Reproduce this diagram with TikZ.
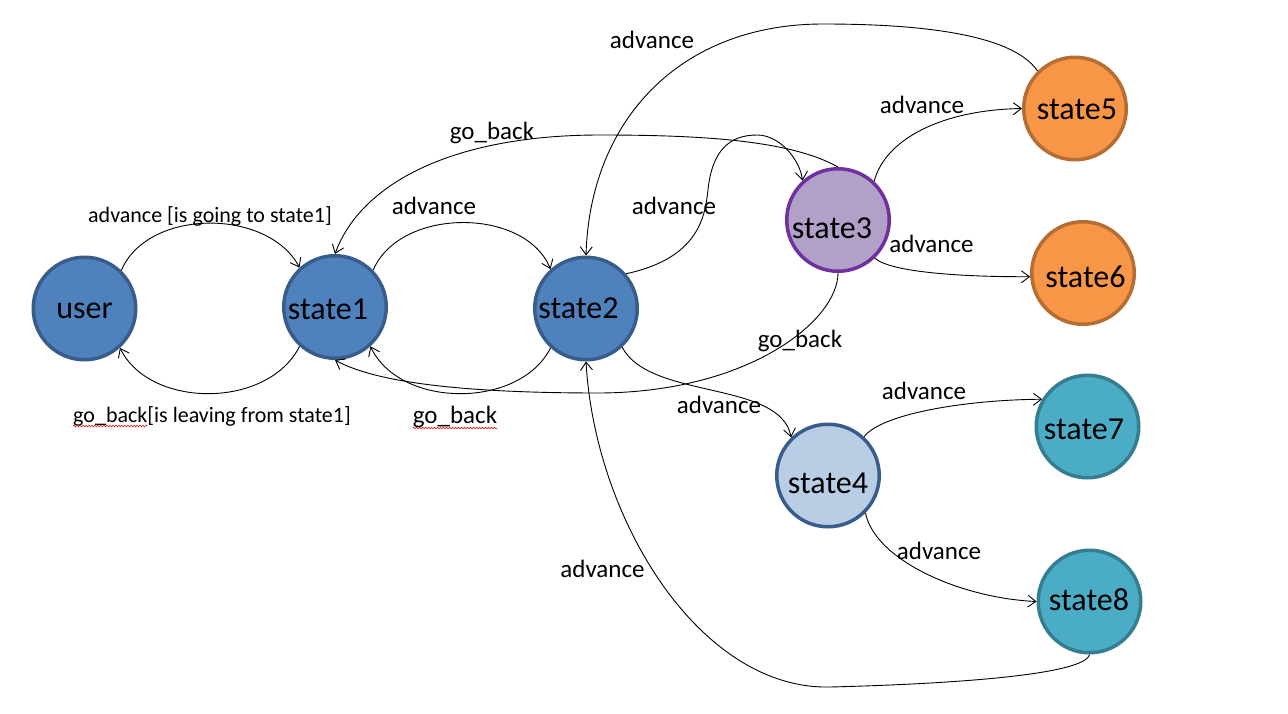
\documentclass[tikz,border=0pt]{standalone}
\usepackage{fontspec}
\setmainfont{Carlito}
\usetikzlibrary{arrows.meta,calc,decorations.pathmorphing}
\definecolor{blueF}{HTML}{4F81BD}
\definecolor{blueD}{HTML}{385D8A}
\definecolor{lilaF}{HTML}{B1A0C7}
\definecolor{lilaD}{HTML}{7030A0}
\definecolor{paleF}{HTML}{B9CDE5}
\definecolor{orgF}{HTML}{F79646}
\definecolor{orgD}{HTML}{B66D31}
\definecolor{tealF}{HTML}{4BACC6}
\definecolor{tealD}{HTML}{357D91}
\definecolor{squig}{HTML}{E02020}
\begin{document}
\begin{tikzpicture}[x=1pt,y=-1pt,
  st/.style={circle, line width=3.5pt, minimum size=102.5pt, inner sep=0pt},
  statelab/.style={font=\fontsize{32}{38}\selectfont, text height=0pt, text depth=0pt, inner sep=0pt},
  slab/.style n args={3}{label={[statelab,xshift=#1,yshift=#2]center:#3}},
  bluest/.style={st, fill=blueF, draw=blueD},
  lilast/.style={st, fill=lilaF, draw=lilaD},
  palest/.style={st, fill=paleF, draw=blueD},
  orgst/.style={st, fill=orgF, draw=orgD},
  tealst/.style={st, fill=tealF, draw=tealD},
  edge/.style={draw, line width=0.9pt, -{Straight Barb[length=8pt,width=12pt]}},
  elab/.style={font=\fontsize{25}{30}\selectfont, anchor=base, inner sep=0pt},
  elabs/.style={font=\fontsize{22}{26}\selectfont, anchor=base, inner sep=0pt},
  wavy/.style={draw=squig, line width=0.6pt, decorate, decoration={snake, amplitude=0.9pt, segment length=3pt}}
]
\fill[white] (0,0) rectangle (1288,713);
\useasboundingbox (0,0) rectangle (1288,713);

% states
\node[bluest, slab={0pt}{-10pt}{user}]   (user)   at (84.5,308.5) {};
\node[bluest, slab={-7pt}{-12pt}{state1}] (state1) at (335,307) {};
\node[bluest, slab={-7.5pt}{-9.5pt}{state2}] (state2) at (586,308.5) {};
\node[lilast, slab={-6pt}{-18pt}{state3}] (state3) at (838,220) {};
\node[palest, slab={0pt}{-17.5pt}{state4}] (state4) at (828,475.5) {};
\node[orgst, slab={2pt}{-10.5pt}{state5}] (state5) at (1075,108.5) {};
\node[orgst, slab={2.5pt}{-14pt}{state6}] (state6) at (1083,273) {};
\node[tealst, slab={-3.5pt}{-12.5pt}{state7}] (state7) at (1087.5,426.5) {};
\node[tealst, slab={-0.5pt}{-8.5pt}{state8}] (state8) at (1089.5,601.5) {};

% connectors
\draw[edge] (user.46) .. controls (148,208) and (268,208) .. (state1.132);
\draw[edge] (state1.228) .. controls (268,409) and (150,409) .. (user.312);
\draw[edge] (state1.44) .. controls (400,207) and (525,207) .. (state2.132);
\draw[edge] (state2.228) .. controls (520,409) and (400,409) .. (state1.312);
\draw[edge] (state2.41) .. controls (700,258) and (705,215) .. (708,190)
   .. controls (712,150) and (730,135) .. (757,135)
   .. controls (780,135) and (800,160) .. (state3.132);
\draw[edge] (state3.north) .. controls (790,140) and (700,135) .. (600,135)
   .. controls (450,135) and (360,185) .. (state1.north);
\draw[edge] (state3.south) .. controls (838,320) and (750,392) .. (600,393)
   .. controls (480,393) and (380,385) .. (state1.south);
\draw[edge] (state5.135) .. controls (1010,30) and (900,24) .. (823,24)
   .. controls (680,24) and (590,120) .. (state2.north);
\draw[edge] (state3.47) .. controls (885,140) and (940,110) .. (state5.180);
\draw[edge] (state3.314) .. controls (890,272) and (960,277) .. (state6.184);
\draw[edge] (state2.313) .. controls (650,400) and (780,380) .. (state4.134);
\draw[edge] (state4.47) .. controls (880,415) and (960,400) .. (state7.149);
\draw[edge] (state4.315) .. controls (875,560) and (960,598) .. (state8.180);
\draw[edge] (state8.south) .. controls (1085,675) and (950,684) .. (830,687)
   .. controls (700,690) and (595,520) .. (state2.south);

% labels
\node[elabs] (l1) at (210,222) {advance [is going to state1]};
\node[elabs] (l2) at (212,422) {go\_back[is leaving from state1]};
\node[elab] (l3) at (434,214) {advance};
\node[elab] (l4) at (455,423) {go\_back};
\node[elab] (l5) at (492,139) {go\_back};
\node[elab] (l6) at (674,214) {advance};
\node[elab] (l7) at (652,48) {advance};
\node[elab] (l8) at (922,113) {advance};
\node[elab] (l9) at (931.5,252) {advance};
\node[elab] (l10) at (800,347) {go\_back};
\node[elab] (l11) at (719,413) {advance};
\node[elab] (l12) at (924,399) {advance};
\node[elab] (l13) at (939,559) {advance};
\node[elab] (l14) at (602.5,577) {advance};

% spelling marks
\draw[wavy] ($(l2.base west)+(0,4)$) -- ++(74,0);
\draw[wavy] ($(l4.base west)+(0,5)$) -- ($(l4.base east)+(0,5)$);
\end{tikzpicture}
\end{document}
